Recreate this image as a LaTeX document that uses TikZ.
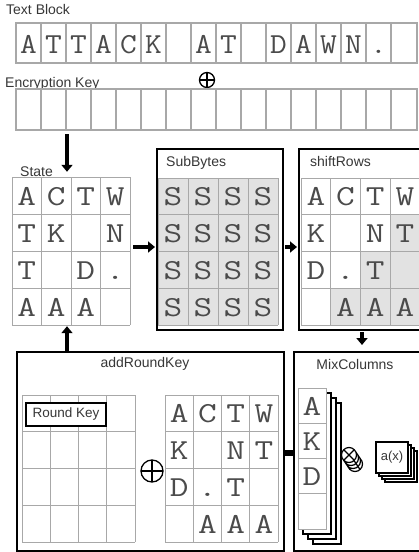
\documentclass[tikz,border=0pt]{standalone}
\usepackage{fontspec}
\setmainfont{Liberation Sans}
\usetikzlibrary{arrows.meta,calc}
\definecolor{gridc}{RGB}{168,168,168}
\definecolor{shadec}{RGB}{226,226,226}
\definecolor{txt}{RGB}{75,75,75}
\definecolor{ltxt}{RGB}{55,55,55}
\newcommand\Lt[1]{\scalebox{1.25}[1]{#1}}
\newcommand\fourgrid[4]{%
  \foreach \k in {0,...,4} {
    \draw[gl] ({#1+\k*#3},#2) -- ++(0,{4*#4});
    \draw[gl] (#1,{#2+\k*#4}) -- ++({4*#3},0);
  }}
\newcommand\fourletters[6]{%
  \foreach \row [count=\r] in {#6} {
    \foreach \l [count=\c] in \row {
      \node[ltr] (#1\r\c) at ({#2+(\c-0.5)*#4},{#3+\r*#5-9}) {\Lt{\l}};
    }
  }}
\begin{document}
\begin{tikzpicture}[x=1pt,y=-1pt,
  lbl/.style={font=\fontsize{14}{15}\selectfont, text=ltxt, inner sep=0},
  ltr/.style={font=\fontsize{29}{29}\selectfont\ttfamily, text=txt, inner sep=0, anchor=base},
  gl/.style={draw=gridc, line width=1pt},
  rowl/.style={draw=gridc, line width=1.6pt},
  frame/.style={draw=black, line width=2pt, inner sep=0, fill=none},
  arr/.style={line width=3.6pt, -{Triangle[width=11pt,length=7pt]}},
  oplus/.style={circle, draw=black, line width=1.3pt, inner sep=0, fill=white,
    path picture={\draw[line width=1.3pt] (path picture bounding box.north) -- (path picture bounding box.south)
      (path picture bounding box.west) -- (path picture bounding box.east);}},
  otimes/.style={circle, draw=black, line width=1.2pt, inner sep=0, fill=white, minimum size=15pt,
    path picture={\draw[line width=1.2pt] (path picture bounding box.north west) -- (path picture bounding box.south east)
      (path picture bounding box.south west) -- (path picture bounding box.north east);}},
  back/.style={draw=black, line width=1.2pt, fill=white},
]
\fill[white] (0,0) rectangle (419,552);
\clip (0,0) rectangle (419,552);

% ---------- Text block and key ----------
\node[lbl, anchor=base west] (ltb) at (6,14.5) {Text Block};
\draw[rowl] (16,23) rectangle (417,63);
\foreach \i in {1,...,15} \draw[rowl] ({16+25*\i},23) -- ++(0,40);
\foreach \l [count=\i] in {A,T,T,A,C,K,{},A,T,{},D,A,W,N,.,{}} {
  \node[ltr] (tb\i) at ({16+(\i-0.5)*25},53) {\scalebox{1.12}[1]{\l}};
}
\node[oplus, minimum size=15pt] (x1) at (207,80) {};
\node[lbl, anchor=base west] (lek) at (5,87) {Encryption Key};
\draw[rowl] (16,89) rectangle (417,130);
\foreach \i in {1,...,15} \draw[rowl] ({16+25*\i},89) -- ++(0,41);
\node[inner sep=0, minimum width=401pt, minimum height=41pt] (key) at (216.5,109.5) {};

% ---------- State ----------
\node[inner sep=0, minimum width=118pt, minimum height=148pt] (state) at (71,251) {};
\fourgrid{12}{177}{29.5}{37}
\fourletters{st}{12}{177}{29.5}{37}{{A,C,T,W},{T,K,{},N},{T,{},D,.},{A,A,A,{}}}
\node[lbl, anchor=base west] (lst) at (20,176) {State};

% ---------- SubBytes ----------
\fill[shadec] (158,178) rectangle (278,325);
\fourgrid{158}{178}{30}{36.75}
\fourletters{sb}{158}{178}{30}{36.75}{{S,S,S,S},{S,S,S,S},{S,S,S,S},{S,S,S,S}}
\node[frame, minimum width=126pt, minimum height=181pt] (sub) at (220,239.5) {};
\node[lbl, anchor=base west] (lsb) at (166,166) {SubBytes};

% ---------- shiftRows ----------
\foreach \r/\c in {2/4,3/3,3/4,4/2,4/3,4/4}
  \fill[shadec] ({301+(\c-1)*29.7},{178+(\r-1)*36.75}) rectangle ++(29.7,36.75);
\fourgrid{301}{178}{29.7}{36.75}
\fourletters{sr}{301}{178}{29.7}{36.75}{{A,C,T,W},{K,{},N,T},{D,.,T,{}},{{},A,A,A}}
\node[frame, minimum width=131pt, minimum height=181pt] (shift) at (364.5,239.5) {};
\node[lbl, anchor=base west] (lsr) at (310,166) {shiftRows};

% ---------- addRoundKey ----------
\node[frame, minimum width=267pt, minimum height=199pt] (ark) at (150.5,451.5) {};
\node[lbl] (lark) at (145,364) {addRoundKey};
\fourgrid{22}{395}{28.25}{36.75}
\node[draw=black, line width=1.5pt, fill=white, inner sep=0, minimum width=80pt, minimum height=23pt,
  font=\fontsize{13.5}{14}\selectfont, text=ltxt] (rk) at (66,414.5) {Round Key};
\node[oplus, minimum size=22pt] (x2) at (152,471) {};
\fourgrid{165}{395}{28.25}{36.75}
\fourletters{ak}{165}{395}{28.25}{36.75}{{A,C,T,W},{K,{},N,T},{D,.,T,{}},{{},A,A,A}}

% ---------- MixColumns ----------
\node[frame, minimum width=136pt, minimum height=199pt] (mix) at (362,451.5) {};
\node[lbl] (lmix) at (355,364) {MixColumns};
\foreach \k in {3,2,1}
  \draw[back] ({298+5*\k},{388+5*\k}) rectangle ++(28,141);
\fill[white] (298,388) rectangle (326,529);
\draw[gl] (298,388) rectangle (326,529);
\foreach \k in {1,2,3} \draw[gl] (298,{388+35.25*\k}) -- (326,{388+35.25*\k});
\foreach \l [count=\r] in {A,K,D,{}}
  \node[ltr] (mc\r) at (312,{388+\r*35.25-8}) {\Lt{\l}};
\foreach \k in {3,2,1}
  \node[otimes] (ot\k) at ({349+2*\k},{455+3*\k}) {};
\node[otimes] (ot0) at (349,455) {};
\foreach \k in {3,2,1}
  \draw[back] ({376+3*\k},{442+3*\k}) rectangle ++(32,31);
\node[draw=black, line width=1.4pt, fill=white, inner sep=0, minimum width=32pt, minimum height=31pt,
  font=\fontsize{13}{14}\selectfont, text=ltxt] (ax) at (392,457.5) {a(x)};

% ---------- connectors ----------
\coordinate (a1) at (67,134);
\draw[arr, shorten >=5pt] (a1) -- (a1 |- state.north);
\coordinate (a2) at (67,351);
\draw[arr, shorten >=1pt] (a2) -- (a2 |- state.south);
\draw[arr, shorten <=3pt, shorten >=1pt] ([yshift=4pt]state.east) -- ([yshift=4pt]state.east -| sub.west);
\draw[arr, shorten <=1pt, shorten >=1pt] ([yshift=-7.5pt]sub.east) -- ([yshift=-7.5pt]sub.east -| shift.west);
\draw[arr, shorten <=1pt, shorten >=6pt] ([xshift=-2.5pt]shift.south) -- ([xshift=-2.5pt]shift.south |- mix.north);
\draw[line width=6.5pt] ([yshift=-1.5pt]ark.east) -- ([yshift=-1.5pt]ark.east -| mix.west);
\end{tikzpicture}
\end{document}
